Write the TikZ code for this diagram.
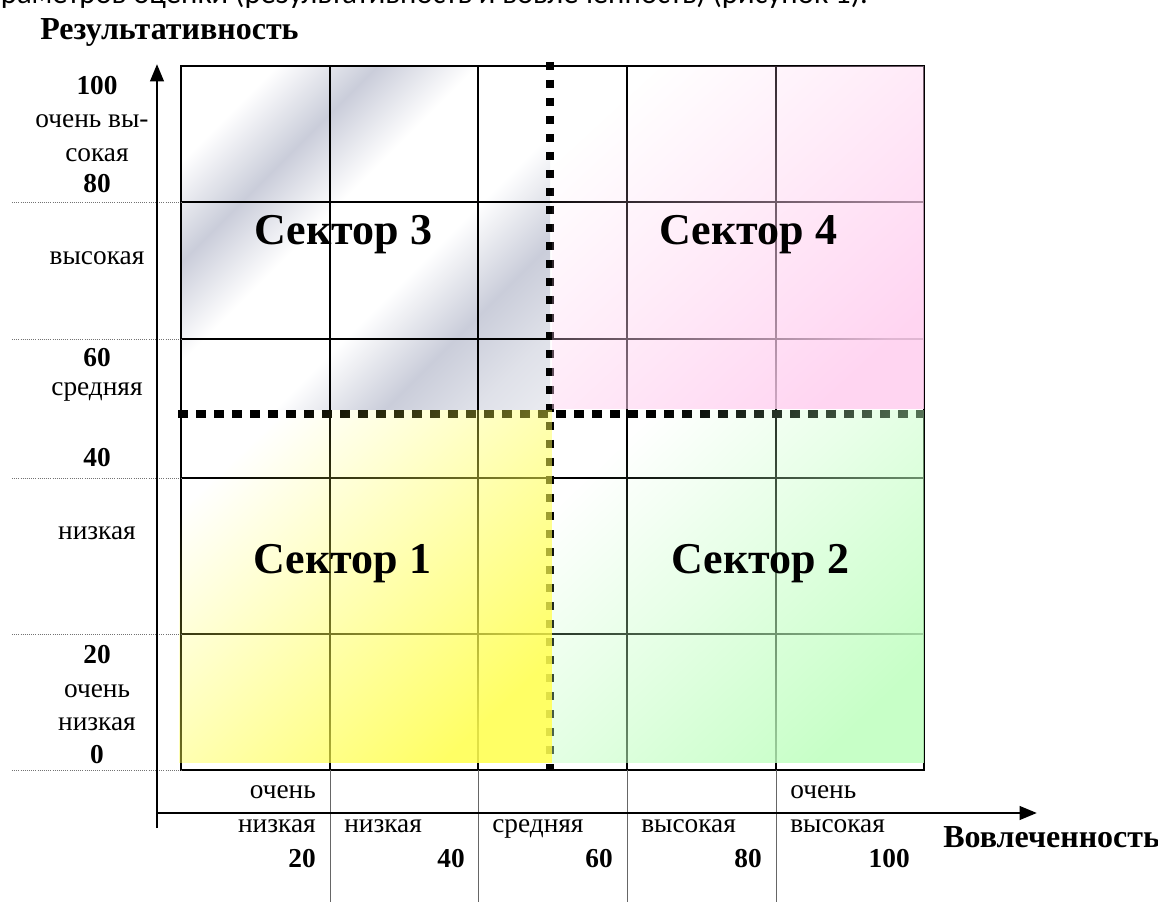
\documentclass[tikz,border=0pt]{standalone}
\usepackage{fontspec}
\setmainfont{Liberation Serif}
\newfontfamily\capfont{Carlito}
\usetikzlibrary{arrows.meta,fadings}

\definecolor{chromegray}{RGB}{202,205,218}
\definecolor{secyellow}{RGB}{255,255,80}
\definecolor{secgreen}{RGB}{192,255,192}
\definecolor{secpink}{RGB}{255,208,240}

% metallic band shading for the upper-left sector
\pgfdeclarehorizontalshading{chrome}{100bp}{%
  color(0bp)=(white); color(24bp)=(white); color(34bp)=(chromegray);
  color(44bp)=(white); color(58bp)=(white); color(69bp)=(chromegray);
  color(78bp)=(chromegray!60!white); color(100bp)=(white)}

% transparent in the upper-left corner, nearly opaque in the lower-right
\tikzfading[name=diagfade, top color=transparent!100, bottom color=transparent!12]

\begin{document}
\begin{tikzpicture}[x=0.75pt,y=-0.75pt,
  gridline/.style={line width=1.9pt, black},
  sepv/.style={line width=5.4pt, dash pattern=on 6pt off 7.5pt},
  seph/.style={line width=5.4pt, dash pattern=on 7.5pt off 6pt},
  axisline/.style={line width=2.2pt, -{Triangle[length=13pt,width=10pt]}},
  guide/.style={black!55, line width=0.6pt, densely dotted},
  tickline/.style={black!60, line width=0.7pt},
  lab/.style={inner sep=0pt, font=\fontsize{20.5}{22}\selectfont},
  num/.style={inner sep=0pt, font=\bfseries\fontsize{20.5}{22}\selectfont},
  axtitle/.style={inner sep=0pt, font=\bfseries\fontsize{24}{26}\selectfont},
  sector/.style={inner sep=0pt, anchor=base, font=\bfseries\fontsize{33}{36}\selectfont},
  wash/.style={path fading=diagfade, fading angle=45}]

\useasboundingbox (0,0) rectangle (1158,902);
\fill[white] (0,0) rectangle (1158,902);

% running text of the page, cut by the top edge
\begin{scope}
  \clip (0,0) rectangle (1158,902);
  \node[anchor=base east, inner sep=0pt, font=\capfont\fontsize{23}{26}\selectfont]
    (caption) at (868,4) {параметров оценки (результативность и вовлеченность) (рисунок 1).};
\end{scope}

% sector 3 background
\shade[shading=chrome, shading angle=-45] (181,66) rectangle (550,410);

% grid
\draw[gridline] (181,66) rectangle (924,770);
\foreach \x in {330,478,627,776} \draw[gridline] (\x,66) -- (\x,770);
\foreach \y in {202,339,478,634} \draw[gridline] (181,\y) -- (924,\y);

% sector boundaries
\coordinate (vtop) at (550,62);
\coordinate (vbot) at (550,770);
\coordinate (hleft) at (178,414);
\coordinate (hright) at (924,414);
\draw[sepv] (vtop) -- (vbot);
\draw[seph] (hleft) -- (hright);

% coloured washes of sectors 4, 1, 2
\fill[secpink, wash] (552,66) rectangle (924,409);
\fill[secyellow, wash] (179,409) rectangle (552,763);
\fill[secgreen, wash] (552,409) rectangle (924,763);

% sector names
\node[sector] (s3) at (343.5,245) {Сектор 3};
\node[sector] (s4) at (748.5,245) {Сектор 4};
\node[sector] (s1) at (342.5,573) {Сектор 1};
\node[sector] (s2) at (760.5,573) {Сектор 2};

% guide lines to the scales
\foreach \y in {202,339,478,634,770} \draw[guide] (12,\y) -- (181,\y);
\foreach \x in {330,478,627,776} \draw[tickline] (\x,770) -- (\x,902);

% axes
\coordinate (ybot) at (157,828);
\coordinate (ytip) at (157,64);
\coordinate (xorg) at (156,813);
\coordinate (xtip) at (1037,813);
\draw[axisline] (ybot) -- (ytip);
\draw[axisline] (xorg) -- (xtip);

\node[axtitle, anchor=base west] (ytitle) at (40,40) {Результативность};
\node[axtitle, anchor=base west] (xtitle) at (943,847) {Вовлеченность};

% vertical scale
\node[num, anchor=base] (y100) at (97,95) {100};
\node[lab, anchor=base] (yvh1) at (92,128) {очень вы-};
\node[lab, anchor=base] (yvh2) at (97,162) {сокая};
\node[num, anchor=base] (y80) at (97,193) {80};
\node[lab, anchor=base] (yh) at (97,265) {высокая};
\node[num, anchor=base] (y60) at (97,367) {60};
\node[lab, anchor=base] (ym) at (97,396) {средняя};
\node[num, anchor=base] (y40) at (97,467) {40};
\node[lab, anchor=base] (yl) at (97,540) {низкая};
\node[num, anchor=base] (y20) at (97,663) {20};
\node[lab, anchor=base] (yvl1) at (97,697) {очень};
\node[lab, anchor=base] (yvl2) at (97,730) {низкая};
\node[num, anchor=base] (y0) at (97,763) {0};

% horizontal scale
\node[lab, anchor=base east] (xvl1) at (316,798) {очень};
\node[lab, anchor=base east] (xvl2) at (316,832) {низкая};
\node[num, anchor=base east] (x20) at (316,867) {20};
\node[lab, anchor=base west] (xl) at (344,832) {низкая};
\node[num, anchor=base east] (x40) at (465,867) {40};
\node[lab, anchor=base west] (xm) at (492,832) {средняя};
\node[num, anchor=base east] (x60) at (613,867) {60};
\node[lab, anchor=base west] (xh) at (641,832) {высокая};
\node[num, anchor=base east] (x80) at (762,867) {80};
\node[lab, anchor=base west] (xvh1) at (790,798) {очень};
\node[lab, anchor=base west] (xvh2) at (790,832) {высокая};
\node[num, anchor=base east] (x100) at (910,867) {100};
\end{tikzpicture}
\end{document}
